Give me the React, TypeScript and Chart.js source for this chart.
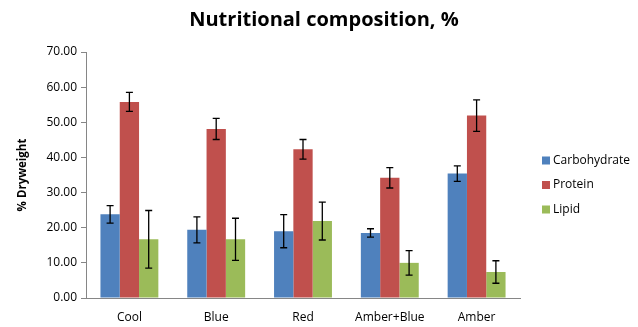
import React, { useEffect, useRef } from "react";
import { Chart, registerables } from "chart.js";

Chart.register(...registerables);

const categories = ["Cool", "Blue", "Red", "Amber+Blue", "Amber"];
const carbohydrate = [23.8, 19.4, 19.0, 18.5, 35.4];
const carbohydrateErr = [2.5, 3.7, 4.7, 1.2, 2.2];
const protein = [55.8, 48.1, 42.3, 34.2, 51.9];
const proteinErr = [2.7, 3.0, 2.8, 2.9, 4.5];
const lipid = [16.7, 16.7, 21.9, 10.0, 7.4];
const lipidErr = [8.2, 6.0, 5.4, 3.5, 3.2];
const yTicks = [0, 10, 20, 30, 40, 50, 60, 70];

const errors = [carbohydrateErr, proteinErr, lipidErr];
const FONT = "'Open Sans', sans-serif";

const errorBarPlugin = {
  id: "errorBars",
  afterDatasetsDraw(chart: any) {
    const ctx = chart.ctx;
    const yScale = chart.scales.y;
    ctx.save();
    ctx.strokeStyle = "#000000";
    ctx.lineWidth = 1.3;
    chart.data.datasets.forEach((ds: any, di: number) => {
      const meta = chart.getDatasetMeta(di);
      meta.data.forEach((bar: any, i: number) => {
        const v = ds.data[i];
        const e = errors[di][i];
        const x = bar.x;
        const yTop = yScale.getPixelForValue(v + e);
        const yBot = yScale.getPixelForValue(v - e);
        const cap = 3.5;
        ctx.beginPath();
        ctx.moveTo(x, yTop);
        ctx.lineTo(x, yBot);
        ctx.moveTo(x - cap, yTop);
        ctx.lineTo(x + cap, yTop);
        ctx.moveTo(x - cap, yBot);
        ctx.lineTo(x + cap, yBot);
        ctx.stroke();
      });
    });
    ctx.restore();
  },
};

const sideLegendPlugin = {
  id: "sideLegend",
  afterDraw(chart: any) {
    const ctx = chart.ctx;
    const area = chart.chartArea;
    const x = area.right + 22;
    const midY = (area.top + area.bottom) / 2 + 10;
    const spacing = 24.5;
    const n = chart.data.datasets.length;
    ctx.save();
    ctx.font = `12px ${FONT}`;
    ctx.textBaseline = "middle";
    ctx.textAlign = "left";
    chart.data.datasets.forEach((ds: any, i: number) => {
      const y = midY + (i - (n - 1) / 2) * spacing;
      ctx.fillStyle = ds.backgroundColor;
      ctx.fillRect(x, y - 4, 8, 8);
      ctx.fillStyle = "#000000";
      ctx.fillText(ds.label, x + 11, y);
    });
    ctx.restore();
  },
};

export default function App() {
  const ref = useRef<HTMLCanvasElement | null>(null);
  useEffect(() => {
    if (!ref.current) return;
    const chart = new Chart(ref.current, {
      type: "bar",
      data: {
        labels: categories,
        datasets: [
          { label: "Carbohydrate", data: carbohydrate, backgroundColor: "#4F81BD" },
          { label: "Protein", data: protein, backgroundColor: "#C0504D" },
          { label: "Lipid", data: lipid, backgroundColor: "#9BBB59" },
        ],
      },
      options: {
        animation: false,
        responsive: false,
        maintainAspectRatio: false,
        layout: { padding: { left: 10, right: 0, top: 0, bottom: 0 } },
        datasets: { bar: { categoryPercentage: 0.667, barPercentage: 1 } },
        plugins: {
          title: {
            display: true,
            text: "Nutritional composition, %",
            color: "#000000",
            font: { family: FONT, size: 20, weight: "bold" },
            padding: { top: 8, bottom: 20 },
          },
          legend: { display: false },
          tooltip: { enabled: false },
        },
        scales: {
          x: {
            grid: { display: false },
            border: { display: true, color: "#868686" },
            ticks: { color: "#000000", font: { family: FONT, size: 12 }, padding: 4 },
            afterFit: (scale: any) => {
              scale.height = 29;
            },
          },
          y: {
            min: 0,
            max: 70,
            afterBuildTicks: (scale: any) => {
              scale.ticks = yTicks.map((v) => ({ value: v }));
            },
            grid: { display: true, drawOnChartArea: false, tickLength: 5, color: "#868686" },
            border: { display: true, color: "#868686" },
            ticks: {
              color: "#000000",
              font: { family: FONT, size: 12 },
              padding: 4,
              callback: (v: any) => Number(v).toFixed(2),
            },
            title: {
              display: true,
              text: "% Dryweight",
              color: "#000000",
              font: { family: FONT, size: 11.5, weight: "bold" },
              padding: { top: 6, bottom: 0 },
            },
            afterFit: (scale: any) => {
              scale.width = 76;
            },
          },
          legendSpace: {
            type: "linear",
            position: "right",
            display: true,
            grid: { display: false },
            border: { display: false },
            ticks: { display: false },
            afterFit: (scale: any) => {
              scale.width = 118;
            },
          },
        },
      },
      plugins: [errorBarPlugin, sideLegendPlugin],
    });
    return () => chart.destroy();
  }, []);
  return (
    <div style={{ position: "fixed", left: 0, top: 0, width: 638, height: 327, background: "#fff" }}>
      <canvas ref={ref} width={638} height={327} style={{ width: 638, height: 327 }} />
    </div>
  );
}
